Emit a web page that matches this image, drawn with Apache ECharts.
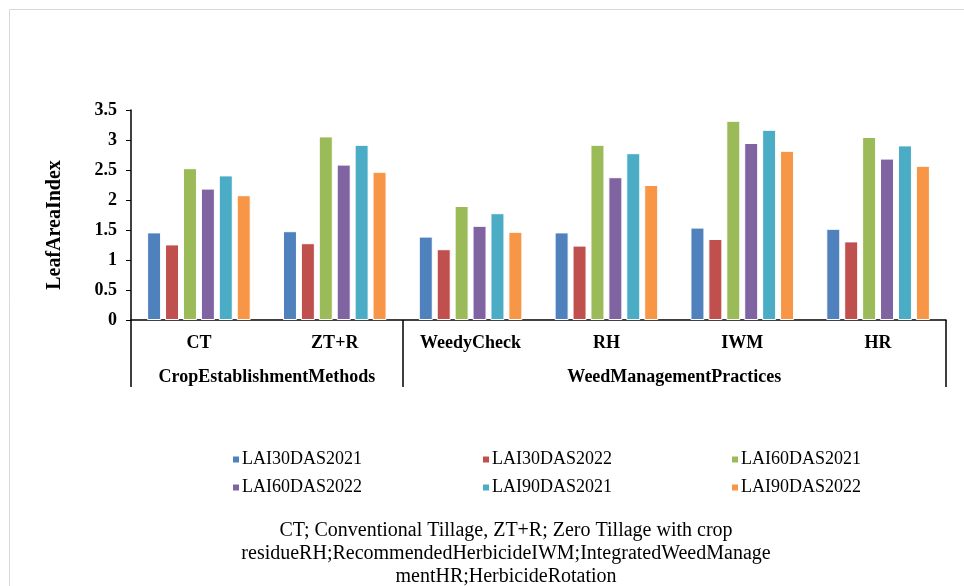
<!DOCTYPE html>
<html>
<head>
<meta charset="utf-8">
<script src="https://cdn.jsdelivr.net/npm/echarts@6/dist/echarts.min.js"></script>
<style>
  html, body { margin: 0; padding: 0; background: #fff; }
  #chart { width: 964px; height: 586px; }
</style>
</head>
<body>
<div id="chart"></div>
<script>
// data
var categories = ['CT', 'ZT+R', 'WeedyCheck', 'RH', 'IWM', 'HR']
var groupNames = ['CropEstablishmentMethods', 'WeedManagementPractices']
var yTicks = [0, 0.5, 1, 1.5, 2, 2.5, 3, 3.5]

var lai30_2021 = [1.46, 1.48, 1.39, 1.46, 1.54, 1.52]
var lai30_2022 = [1.26, 1.28, 1.18, 1.24, 1.35, 1.31]
var lai60_2021 = [2.53, 3.06, 1.90, 2.92, 3.32, 3.05]
var lai60_2022 = [2.19, 2.59, 1.57, 2.38, 2.95, 2.69]
var lai90_2021 = [2.41, 2.92, 1.78, 2.78, 3.17, 2.91]
var lai90_2022 = [2.08, 2.47, 1.47, 2.25, 2.82, 2.57]

var seriesNames = ['LAI30DAS2021', 'LAI30DAS2022', 'LAI60DAS2021', 'LAI60DAS2022', 'LAI90DAS2021', 'LAI90DAS2022']
var seriesData = [lai30_2021, lai30_2022, lai60_2021, lai60_2022, lai90_2021, lai90_2022]
var colors = ['#4F81BD', '#C0504D', '#9BBB59', '#8064A2', '#4BACC6', '#F79646']

var font = 'Liberation Serif'

var chart = echarts.init(document.getElementById('chart'))

function legendCol(left, items) {
  return {
    orient: 'vertical',
    left: left,
    top: 445,
    icon: 'rect',
    itemWidth: 8,
    itemHeight: 8,
    itemGap: 9,
    data: items,
    textStyle: { fontFamily: font, fontSize: 18, color: '#000', lineHeight: 19, padding: [0, 0, 0, -3] }
  }
}

chart.setOption({
  animation: false,
  color: colors,
  grid: { left: 131, right: 18, top: 110, bottom: 266 },
  legend: [
    legendCol(226, [seriesNames[0], seriesNames[3]]),
    legendCol(476, [seriesNames[1], seriesNames[4]]),
    legendCol(725, [seriesNames[2], seriesNames[5]])
  ],
  xAxis: [
    {
      type: 'category',
      data: categories,
      position: 'bottom',
      axisLine: { lineStyle: { color: '#000', width: 1.5 } },
      axisTick: { show: false },
      axisLabel: { margin: 14, color: '#000', fontFamily: font, fontSize: 18, fontWeight: 'bold' }
    },
    {
      type: 'value',
      min: 0,
      max: 6,
      position: 'bottom',
      axisLine: { show: false },
      splitLine: { show: false },
      axisTick: {
        show: true,
        customValues: [0, 2, 6],
        length: 67,
        lineStyle: { color: '#000', width: 1.5 }
      },
      axisLabel: {
        customValues: [1, 4],
        margin: 48,
        color: '#000',
        fontFamily: font,
        fontSize: 18,
        fontWeight: 'bold',
        formatter: function (v) { return v === 1 ? groupNames[0] : groupNames[1] }
      }
    }
  ],
  yAxis: {
    type: 'value',
    min: yTicks[0],
    max: yTicks[yTicks.length - 1],
    interval: 0.5,
    name: 'LeafAreaIndex',
    nameLocation: 'middle',
    nameGap: 66,
    nameTextStyle: { fontFamily: font, fontSize: 20, fontWeight: 'bold', color: '#000', padding: [0, 20, 0, 0] },
    axisLine: { show: true, lineStyle: { color: '#000', width: 1.5 } },
    axisTick: { show: true, length: 5, lineStyle: { color: '#000' } },
    splitLine: { show: false },
    axisLabel: { margin: 14, color: '#000', fontFamily: font, fontSize: 18, fontWeight: 'bold' }
  },
  series: seriesNames.map(function (name, i) {
    return {
      name: name,
      type: 'bar',
      xAxisIndex: 0,
      data: seriesData[i],
      barWidth: 14,
      barGap: '28%',
      itemStyle: { borderColor: '#fff', borderWidth: 1 }
    }
  }),
  graphic: [
    {
      type: 'rect',
      shape: { x: 9.5, y: 9.5, width: 960, height: 590 },
      style: { fill: 'none', stroke: '#d9d9d9', lineWidth: 1 },
      silent: true
    },
    {
      type: 'text',
      x: 506,
      y: 519,
      style: {
        text: 'CT; Conventional Tillage, ZT+R; Zero Tillage with crop\nresidueRH;RecommendedHerbicideIWM;IntegratedWeedManage\nmentHR;HerbicideRotation',
        align: 'center',
        font: '20px "Liberation Serif"',
        lineHeight: 23,
        fill: '#000'
      }
    }
  ]
})
</script>
</body>
</html>
